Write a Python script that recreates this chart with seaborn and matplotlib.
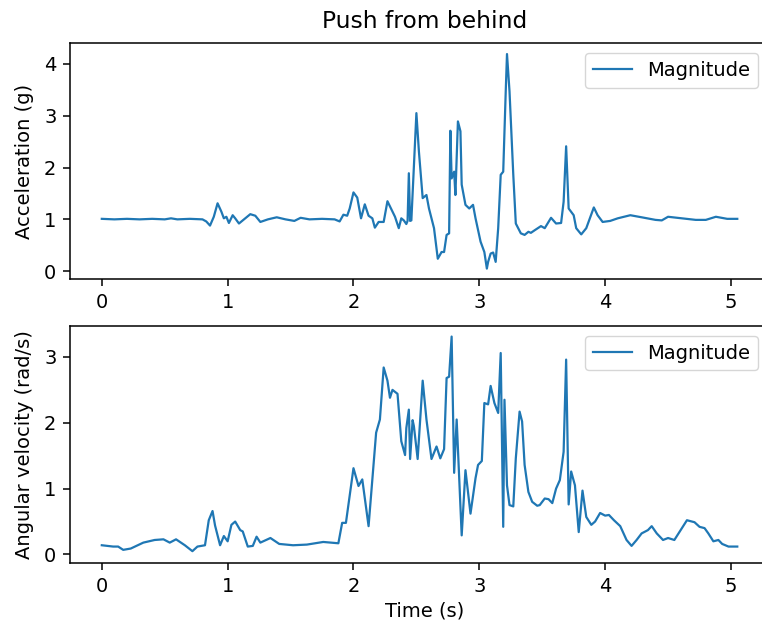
import numpy as np
import pandas as pd
import matplotlib
matplotlib.use("Agg")
import matplotlib.pyplot as plt
import seaborn as sns

# Accelerometer magnitude (g) over time (s)
acc_time = [
    0.00, 0.10, 0.20, 0.30, 0.40, 0.50, 0.55, 0.60, 0.70, 0.80, 0.83, 0.86, 0.89, 0.92,
    0.95, 0.97, 0.99, 1.01, 1.04, 1.06, 1.09, 1.13, 1.18, 1.22, 1.26, 1.32, 1.39, 1.46,
    1.53, 1.58, 1.65, 1.75, 1.85, 1.89, 1.92, 1.95, 1.97, 2.00, 2.03, 2.06, 2.09, 2.12,
    2.15, 2.17, 2.20, 2.24, 2.27, 2.31, 2.33, 2.36, 2.38, 2.40, 2.42, 2.43, 2.44, 2.45,
    2.46, 2.50, 2.52, 2.55, 2.58, 2.60, 2.64, 2.67, 2.70, 2.72, 2.74, 2.76, 2.77, 2.78,
    2.80, 2.81, 2.83, 2.85, 2.86, 2.89, 2.92, 2.95, 2.97, 3.01, 3.04, 3.06, 3.07, 3.09,
    3.11, 3.13, 3.15, 3.17, 3.19, 3.21, 3.22, 3.24, 3.27, 3.29, 3.33, 3.36, 3.39, 3.41,
    3.44, 3.49, 3.52, 3.57, 3.61, 3.65, 3.67, 3.69, 3.71, 3.75, 3.77, 3.81, 3.85, 3.91,
    3.94, 3.98, 4.04, 4.10, 4.20, 4.29, 4.40, 4.45, 4.50, 4.61, 4.72, 4.80, 4.88, 4.97,
    5.05,
]
acc_mag = [
    1.01, 1.00, 1.01, 1.00, 1.01, 1.00, 1.02, 1.00, 1.01, 1.00, 0.96, 0.88, 1.05, 1.31,
    1.15, 1.02, 1.05, 0.93, 1.08, 1.02, 0.92, 1.00, 1.10, 1.07, 0.95, 1.00, 1.04, 1.00,
    0.97, 1.03, 1.00, 1.01, 1.00, 0.96, 1.09, 1.07, 1.21, 1.52, 1.42, 1.02, 1.29, 1.07,
    1.02, 0.84, 0.95, 0.95, 1.35, 1.15, 1.05, 0.83, 1.02, 0.98, 0.91, 0.97, 1.89, 0.97,
    0.98, 3.05, 2.31, 1.41, 1.47, 1.21, 0.83, 0.24, 0.37, 0.37, 0.70, 0.73, 2.71, 1.79,
    1.92, 1.47, 2.89, 2.70, 1.67, 1.28, 1.21, 1.28, 1.02, 0.57, 0.37, 0.05, 0.18, 0.34,
    0.36, 0.18, 0.83, 1.86, 1.92, 3.47, 4.19, 3.47, 1.86, 0.92, 0.73, 0.70, 0.76, 0.74,
    0.79, 0.87, 0.83, 1.03, 0.92, 0.93, 1.34, 2.41, 1.21, 1.08, 0.83, 0.71, 0.83, 1.23,
    1.08, 0.95, 0.97, 1.02, 1.08, 1.04, 0.99, 0.98, 1.05, 1.02, 0.99, 0.99, 1.05, 1.01,
    1.01,
]

# Gyroscope magnitude (rad/s) over time (s)
gyro_time = [
    0.00, 0.09, 0.13, 0.17, 0.23, 0.33, 0.42, 0.49, 0.54, 0.59, 0.66, 0.72, 0.76, 0.82,
    0.85, 0.88, 0.90, 0.94, 0.97, 1.00, 1.03, 1.06, 1.10, 1.12, 1.16, 1.20, 1.23, 1.26,
    1.34, 1.41, 1.52, 1.63, 1.76, 1.88, 1.91, 1.94, 2.00, 2.04, 2.07, 2.12, 2.18, 2.21,
    2.24, 2.27, 2.29, 2.31, 2.35, 2.38, 2.41, 2.42, 2.44, 2.45, 2.47, 2.48, 2.51, 2.55,
    2.58, 2.62, 2.66, 2.69, 2.72, 2.74, 2.76, 2.78, 2.80, 2.82, 2.86, 2.89, 2.93, 2.97,
    2.99, 3.02, 3.04, 3.07, 3.09, 3.12, 3.15, 3.17, 3.19, 3.20, 3.22, 3.24, 3.27, 3.29,
    3.32, 3.34, 3.36, 3.39, 3.42, 3.46, 3.48, 3.52, 3.55, 3.58, 3.61, 3.64, 3.67, 3.69,
    3.71, 3.73, 3.76, 3.79, 3.82, 3.85, 3.89, 3.92, 3.96, 4.00, 4.03, 4.07, 4.12, 4.17,
    4.21, 4.25, 4.29, 4.34, 4.37, 4.41, 4.46, 4.50, 4.55, 4.60, 4.65, 4.71, 4.75, 4.79,
    4.82, 4.86, 4.90, 4.93, 4.98, 5.05,
]
gyro_mag = [
    0.14, 0.12, 0.12, 0.07, 0.09, 0.18, 0.22, 0.23, 0.18, 0.23, 0.14, 0.05, 0.12, 0.14,
    0.52, 0.66, 0.44, 0.14, 0.28, 0.20, 0.45, 0.50, 0.37, 0.35, 0.12, 0.13, 0.27, 0.18,
    0.25, 0.16, 0.14, 0.15, 0.19, 0.17, 0.48, 0.48, 1.31, 1.04, 1.14, 0.43, 1.85, 2.05,
    2.84, 2.64, 2.38, 2.50, 2.44, 1.72, 1.51, 1.92, 2.20, 1.45, 2.04, 1.95, 1.45, 2.64,
    2.05, 1.45, 1.64, 1.46, 1.60, 2.68, 2.70, 3.31, 1.24, 2.05, 0.29, 1.28, 0.62, 1.16,
    1.36, 1.42, 2.30, 2.28, 2.56, 2.30, 2.15, 3.06, 0.42, 2.35, 1.05, 0.75, 0.73, 1.46,
    2.17, 2.02, 1.36, 0.95, 0.80, 0.74, 0.75, 0.85, 0.84, 0.78, 1.00, 1.13, 1.56, 2.96,
    0.76, 1.26, 1.05, 0.34, 0.97, 0.57, 0.45, 0.50, 0.63, 0.59, 0.60, 0.52, 0.43, 0.22,
    0.13, 0.22, 0.32, 0.37, 0.43, 0.32, 0.22, 0.25, 0.22, 0.37, 0.52, 0.49, 0.42, 0.40,
    0.32, 0.20, 0.22, 0.16, 0.12, 0.12,
]

acc_df = pd.DataFrame({"t": acc_time, "mag": acc_mag})
gyro_df = pd.DataFrame({"t": gyro_time, "mag": gyro_mag})

plt.rcParams.update({
    "font.size": 14,
    "axes.titlesize": 16.8,
    "axes.linewidth": 1.1,
    "xtick.major.size": 4.9,
    "ytick.major.size": 4.9,
    "xtick.major.width": 1.1,
    "ytick.major.width": 1.1,
    "xtick.major.pad": 4.9,
    "ytick.major.pad": 4.9,
})

fig = plt.figure(figsize=(7.62, 6.26), dpi=100)
# The axes run past the right edge of the canvas
ax1 = fig.add_axes([0.0919, 0.5538, 0.9318, 0.377])
ax2 = fig.add_axes([0.0919, 0.1006, 0.9318, 0.3786])

sns.lineplot(data=acc_df, x="t", y="mag", ax=ax1, color="#1f77b4",
             linewidth=1.6, label="Magnitude", sort=False)
sns.lineplot(data=gyro_df, x="t", y="mag", ax=ax2, color="#1f77b4",
             linewidth=1.6, label="Magnitude", sort=False)

ax1.set_title("Push from behind", pad=11)
ax1.set_xlabel("")
ax1.set_ylabel("Acceleration (g)", labelpad=7.5)
ax2.set_xlabel("Time (s)", labelpad=4)
ax2.set_ylabel("Angular velocity (rad/s)", labelpad=7.5)

for ax in (ax1, ax2):
    ax.set_xlim(-0.2525, 5.39)
    ax.set_xticks([0, 1, 2, 3, 4, 5])
    ax.legend(loc="upper right", bbox_to_anchor=(0.9827, 1.0))

ax1.set_ylim(-0.157, 4.397)
ax1.set_yticks([0, 1, 2, 3, 4])
ax2.set_ylim(-0.13, 3.47)
ax2.set_yticks([0, 1, 2, 3])

fig.savefig("out.png", dpi=100)
